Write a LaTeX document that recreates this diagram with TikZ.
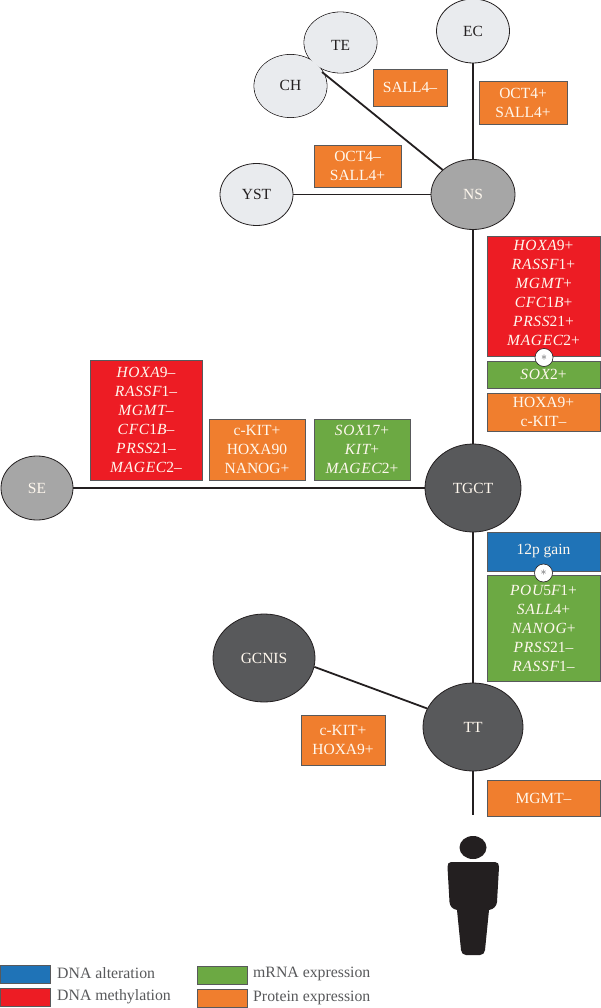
\documentclass[tikz,border=0pt]{standalone}
\usepackage{fontspec}
\setmainfont{Liberation Serif}
\usetikzlibrary{shapes.geometric}
\definecolor{cor}{HTML}{F07E2E}
\definecolor{cre}{HTML}{ED1C24}
\definecolor{cgr}{HTML}{6CA943}
\definecolor{cbl}{HTML}{1F73B7}
\definecolor{cli}{HTML}{E9EBEE}
\definecolor{cmi}{HTML}{A6A6A6}
\definecolor{cda}{HTML}{58595B}
\definecolor{cbk}{HTML}{231F20}
\definecolor{ctx}{HTML}{FFF8EE}
\newcommand{\ii}[1]{{\itshape\addfontfeatures{LetterSpace=4.5}#1}}
\tikzset{
  x=1pt,y=-1pt,
  lab/.style={font=\fontsize{15.5}{19}\selectfont},
  bub/.style={ellipse,inner sep=0pt,draw=cbk,line width=0.8pt,lab},
  lightb/.style={bub,fill=cli,text=cbk},
  midb/.style={bub,fill=cmi,text=ctx},
  darkb/.style={bub,fill=cda,text=ctx},
  link/.style={draw=cbk,line width=1.8pt},
  box/.style={rectangle,inner sep=0pt,draw=cda,line width=0.9pt,text=ctx,align=center,lab},
  orb/.style={box,fill=cor},
  reb/.style={box,fill=cre},
  grb/.style={box,fill=cgr},
  blb/.style={box,fill=cbl},
  star/.style={circle,draw=cbk,line width=0.6pt,fill=white,minimum size=18pt,inner sep=0pt,text=cda,font=\fontsize{13}{13}\selectfont},
  legk/.style={rectangle,inner sep=0pt,draw=cda,line width=0.9pt,minimum width=50pt,minimum height=18pt},
  legt/.style={anchor=west,inner sep=0pt,text=cda,font=\fontsize{15.8}{17}\selectfont}
}
\begin{document}
\begin{tikzpicture}
\useasboundingbox (0,0) rectangle (600,1008);
\fill[white] (0,0) rectangle (600,1008);

% TE and CH merge into one outline
\draw[cbk,line width=0.8pt,fill=cli] (340.5,42.5) ellipse [x radius=36.5,y radius=30.5];
\draw[cbk,line width=0.8pt,fill=cli] (290.5,86) ellipse [x radius=36.5,y radius=31.5];
\fill[cli] (340.5,42.5) ellipse [x radius=36.1,y radius=30.1];
\fill[cli] (290.5,86) ellipse [x radius=36.1,y radius=31.1];

\node[ellipse,inner sep=0pt,minimum width=73pt,minimum height=61pt,text=cbk,lab] (TE) at (340.5,45) {TE};
\node[ellipse,inner sep=0pt,minimum width=73pt,minimum height=63pt,text=cbk,lab] (CH) at (290.5,85) {CH};
\node[lightb,minimum width=73pt,minimum height=64pt] (EC) at (473,31) {EC};
\node[lightb,minimum width=73pt,minimum height=62pt] (YST) at (256.5,194.5) {YST};
\node[midb,minimum width=84pt,minimum height=70pt] (NS) at (473,194.5) {NS};
\node[midb,minimum width=72pt,minimum height=64pt] (SE) at (37,488) {SE};
\node[darkb,minimum width=96pt,minimum height=88pt] (TGCT) at (473,488) {TGCT};
\node[darkb,minimum width=102pt,minimum height=88pt] (GCNIS) at (264,658) {GCNIS};
\node[darkb,minimum width=100pt,minimum height=88pt] (TT) at (473,727) {TT};
\coordinate (chend) at (322,72);
\coordinate (rootend) at (473,815);

\draw[link] (NS) -- (chend);
\draw[link] (EC) -- (NS);
\draw[link] (YST) -- (NS);
\draw[link] (NS) -- (TGCT);
\draw[link] (SE) -- (TGCT);
\draw[link] (TGCT) -- (TT);
\draw[link] (GCNIS.-10) -- (TT.158);
\draw[link] (TT) -- (rootend);

\node[orb,minimum width=74pt,minimum height=37pt] (b1) at (410,87.5) {SALL4–};
\node[orb,minimum width=88pt,minimum height=43pt] (b2) at (523,102.5) {OCT4+\\SALL4+};
\node[orb,minimum width=87pt,minimum height=42pt] (b3) at (357.5,166) {OCT4–\\SALL4+};
\node[reb,minimum width=113pt,minimum height=120pt] (b4) at (543.5,296) {\ii{HOXA}9+\\\ii{RASSF}1+\\\ii{MGMT}+\\\ii{CFC}1\ii{B}+\\\ii{PRSS}21+\\\ii{MAGEC}2+\rule[-7pt]{0pt}{7pt}};
\node[grb,minimum width=113pt,minimum height=27pt] (b5) at (543.5,374.5) {\ii{SOX}2+};
\node[orb,minimum width=113pt,minimum height=38pt] (b6) at (543.5,412) {HOXA9+\\c-KIT–};
\node[star] (s1) at (544,357.5) {$*$};
\node[reb,minimum width=112pt,minimum height=120pt] (b7) at (146,420) {\ii{HOXA}9–\\\ii{RASSF}1–\\\ii{MGMT}–\\\ii{CFC}1\ii{B}–\\\ii{PRSS}21–\\\ii{MAGEC}2–};
\node[orb,minimum width=96pt,minimum height=61pt] (b8) at (257,449.5) {c-KIT+\\HOXA90\\NANOG+};
\node[grb,minimum width=96pt,minimum height=61pt] (b9) at (362,449.5) {\ii{SOX}17+\\\ii{KIT}+\\\ii{MAGEC}2+};
\node[blb,minimum width=113pt,minimum height=39pt] (b10) at (543.5,551.5) {12p gain};
\node[grb,minimum width=113pt,minimum height=106pt] (b11) at (543.5,628) {\ii{POU}5\ii{F}1+\\\ii{SALL}4+\\\ii{NANOG}+\\\ii{PRSS}21–\\\ii{RASSF}1–};
\node[star] (s2) at (543.5,573) {$*$};
\node[orb,minimum width=84pt,minimum height=50pt] (b12) at (343,740) {c-KIT+\\HOXA9+};
\node[orb,minimum width=113pt,minimum height=36pt] (b13) at (543.5,798) {MGMT–};

% person
\fill[cbk] (473,847.5) ellipse [x radius=13.5,y radius=11.5];
\fill[cbk] (451,862) -- (495,862)
  .. controls (498,862) and (499,864) .. (499,867)
  -- (497,902)
  .. controls (496.5,906) and (494,909) .. (489,910)
  -- (485,950)
  .. controls (484.5,953) and (483,955) .. (480,955)
  -- (466,955)
  .. controls (463,955) and (461.5,953) .. (461,950)
  -- (457,910)
  .. controls (452,909) and (450,906) .. (449.5,902)
  -- (447.5,867)
  .. controls (447.5,864) and (448.5,862) .. (451,862) -- cycle;

% legend
\node[legk,fill=cbl] (k1) at (25,974) {};
\node[legk,fill=cre] (k2) at (25,997) {};
\node[legk,fill=cgr] (k3) at (222,975) {};
\node[legk,fill=cor] (k4) at (222,998) {};
\node[legt] (t1) at (57,973) {DNA alteration};
\node[legt] (t2) at (57,997) {DNA methylation};
\node[legt] (t3) at (253,974) {mRNA expression};
\node[legt] (t4) at (253,998) {Protein expression};
\end{tikzpicture}
\end{document}
